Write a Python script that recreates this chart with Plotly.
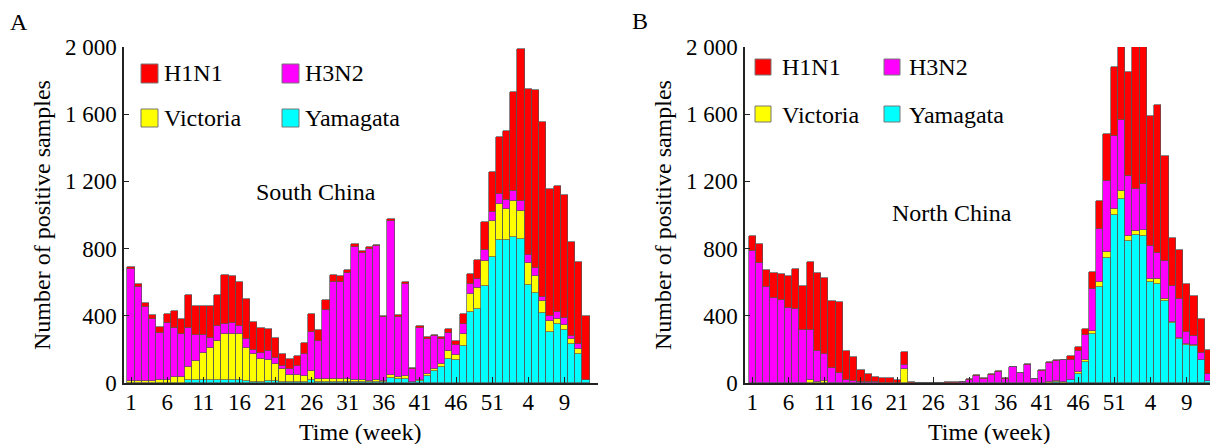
import plotly.graph_objects as go

# ---------------- data ----------------
week_labels = [str(w) for w in range(1, 53)] + [str(w) for w in range(1, 13)]
tick_labels = ["1", "6", "11", "16", "21", "26", "31", "36", "41", "46", "51", "4", "9"]
y_tick_vals = [0, 400, 800, 1200, 1600, 2000]
y_tick_text = ["0", "400", "800", "1 200", "1 600", "2 000"]
series_names = ["Yamagata", "Victoria", "H3N2", "H1N1"]
series_colors = ["#00FFFF", "#FFFF00", "#FF00FF", "#FF0000"]

# South China
south_yamagata = [0, 0, 0, 0, 0, 0, 0, 0, 20, 20, 20, 20, 20, 20, 20, 15, 10, 8, 8, 10,
                  10, 8, 5, 5, 5, 15, 5, 5, 5, 5, 5, 5, 5, 5, 5, 5, 30, 24, 24, 5,
                  10, 40, 73, 93, 145, 135, 218, 421, 443, 580, 748, 854,
                  850, 869, 857, 586, 536, 417, 302, 353, 314, 232, 173, 15]
south_victoria = [10, 10, 10, 10, 15, 20, 36, 36, 73, 109, 158, 188, 233, 270, 272, 275, 197, 164, 137, 129,
                  103, 75, 45, 45, 35, 54, 17, 20, 20, 20, 20, 15, 10, 7, 10, 5, 20, 12, 16, 0,
                  10, 14, 12, 22, 44, 34, 76, 109, 123, 148, 219, 212,
                  186, 213, 169, 129, 103, 69, 65, 28, 33, 32, 29, 0]
south_h3n2 = [667, 564, 441, 370, 282, 336, 294, 254, 237, 158, 109, 59, 87, 60, 63, 50, 55, 26, 33, 51,
              35, 20, 33, 53, 130, 234, 226, 408, 576, 576, 630, 790, 759, 788, 803, 381, 913, 355, 550, 81,
              308, 210, 193, 149, 109, 59, 57, 62, 53, 62, 49, 61,
              52, 59, 60, 49, 44, 24, 30, 42, 40, 18, 32, 5]
south_h1n1 = [13, 14, 24, 22, 36, 56, 96, 91, 193, 174, 174, 193, 185, 293, 282, 264, 238, 164, 149, 131,
              122, 69, 62, 55, 68, 110, 70, 59, 44, 34, 20, 20, 10, 10, 6, 6, 16, 12, 11, 3,
              9, 8, 10, 8, 25, 20, 60, 57, 111, 167, 240, 336,
              411, 592, 905, 987, 1060, 1042, 758, 748, 731, 556, 487, 381]

# North China
north_yamagata = [0, 0, 0, 0, 0, 0, 0, 0, 0, 0, 2, 0, 0, 0, 0, 0, 0, 0, 0, 0,
                  0, 0, 0, 0, 0, 0, 0, 0, 0, 0, 0, 0, 0, 0, 0, 0, 0, 0, 0, 0,
                  0, 2, 8, 3, 18, 55, 124, 292, 572, 744, 1002, 1098,
                  844, 883, 877, 601, 590, 486, 357, 262, 224, 218, 135, 10]
north_victoria = [3, 2, 2, 2, 2, 2, 2, 3, 15, 5, 8, 3, 2, 2, 1, 1, 1, 0, 0, 0,
                  0, 85, 0, 0, 0, 0, 0, 0, 0, 0, 0, 0, 0, 0, 0, 0, 0, 0, 0, 0,
                  0, 2, 6, 3, 2, 8, 10, 15, 29, 36, 34, 43,
                  33, 20, 32, 20, 29, 14, 4, 6, 8, 10, 4, 0]
north_h3n2 = [780, 715, 571, 504, 492, 447, 438, 312, 300, 186, 163, 86, 60, 15, 8, 7, 5, 4, 3, 3,
              2, 24, 2, 1, 1, 1, 1, 2, 3, 6, 18, 44, 25, 50, 68, 25, 94, 59, 110, 24,
              74, 118, 118, 129, 118, 130, 151, 255, 316, 421, 433, 427,
              354, 252, 278, 193, 155, 225, 219, 232, 70, 50, 40, 44]
north_h1n1 = [93, 110, 97, 149, 154, 187, 236, 263, 403, 465, 450, 401, 418, 173, 146, 68, 49, 29, 24, 24,
              16, 77, 3, 2, 2, 2, 2, 3, 2, 2, 3, 3, 2, 2, 2, 2, 2, 2, 2, 2,
              2, 3, 3, 4, 22, 24, 38, 100, 165, 284, 411, 532,
              621, 945, 913, 778, 878, 625, 283, 294, 290, 242, 202, 145]

panels = [
    dict(x="x", y="y", data=[south_yamagata, south_victoria, south_h3n2, south_h1n1]),
    dict(x="x2", y="y2", data=[north_yamagata, north_victoria, north_h3n2, north_h1n1]),
]

W, H = 1218, 444
OX, OY = 8, 8          # page body margin of the browser
FONT = "Liberation Serif, Times New Roman, serif"
FS = 24
FS_TICK = 23


def px(xp):
    return (xp - OX) / W


def py(yp):
    return 1 - (yp - OY) / H


x_pos = list(range(len(week_labels)))
tick_pos = [x_pos[week_labels.index("1")] + 5 * k for k in range(len(tick_labels))]

fig = go.Figure()
for p in panels:
    for name, color, vals in zip(series_names, series_colors, p["data"]):
        fig.add_trace(go.Bar(
            x=x_pos, y=vals, name=name, xaxis=p["x"], yaxis=p["y"],
            marker=dict(color=color, line=dict(color="#555555", width=0.7)),
            width=1.0, showlegend=False,
            customdata=week_labels,
            hovertemplate="Week %{customdata}<br>" + name + ": %{y}<extra></extra>",
        ))

axis_common = dict(
    showgrid=False, zeroline=False, showline=True, linecolor="#222222", linewidth=1.5,
    ticks="inside", tickcolor="#222222", tickwidth=1.2, automargin=False,
    tickfont=dict(family=FONT, size=FS_TICK, color="#000000"),
)

fig.update_layout(
    template="none",
    width=W, height=H, autosize=False,
    margin=dict(l=0, r=0, t=0, b=0, pad=0),
    paper_bgcolor="white", plot_bgcolor="white",
    barmode="stack", bargap=0,
    font=dict(family=FONT, size=FS, color="#000000"),
    xaxis=dict(domain=[px(124), px(598)], range=[-0.98, 64.65], anchor="y",
               tickvals=tick_pos, ticktext=tick_labels, ticklen=6, ticklabelstandoff=-2,
               **axis_common),
    yaxis=dict(domain=[py(383), py(47)], range=[0, 2000], anchor="x",
               tickvals=y_tick_vals, ticktext=y_tick_text, ticklen=5, ticklabelstandoff=1,
               **axis_common),
    xaxis2=dict(domain=[px(745), px(1217)], range=[-1.01, 64.18], anchor="y2",
                tickvals=tick_pos, ticktext=tick_labels, ticklen=6, ticklabelstandoff=-2,
                **axis_common),
    yaxis2=dict(domain=[py(383), py(47)], range=[0, 2000], anchor="x2",
                tickvals=y_tick_vals, ticktext=y_tick_text, ticklen=5, ticklabelstandoff=1,
                **axis_common),
)

annotations = []
shapes = []


def text(t, x, y, xanchor="center", angle=0, size=FS):
    annotations.append(dict(text=t, x=px(x), y=py(y), xref="paper", yref="paper",
                            xanchor=xanchor, yanchor="middle", showarrow=False,
                            textangle=angle, font=dict(family=FONT, size=size, color="#000000")))


# panel letters
text("A", 19, 22)
text("B", 640, 21)
# axis titles
text("Number of positive samples", 42, 215, angle=-90)
text("Number of positive samples", 663, 215, angle=-90)
text("Time (week)", 360, 432)
text("Time (week)", 989, 432)
# region labels
text("South China", 316, 192)
text("North China", 952, 213)

# legends (red/magenta row, yellow/cyan row)
legend_layout = [
    # (name, color, x0, x1, y0, y1, text_x, text_y)
    ("H1N1", "#FF0000", 141, 158, 64, 83, 162, 73),
    ("H3N2", "#FF00FF", 282, 299, 64, 83, 303, 73),
    ("Victoria", "#FFFF00", 141, 158, 109, 127, 162, 118),
    ("Yamagata", "#00FFFF", 282, 299, 109, 127, 303, 118),
    ("H1N1", "#FF0000", 755, 771, 59, 75, 780, 67),
    ("H3N2", "#FF00FF", 884, 900, 59, 75, 907, 67),
    ("Victoria", "#FFFF00", 755, 771, 106, 122, 780, 115),
    ("Yamagata", "#00FFFF", 884, 900, 106, 122, 907, 115),
]
for name, color, x0, x1, y0, y1, tx, ty in legend_layout:
    shapes.append(dict(type="rect", xref="paper", yref="paper",
                       x0=px(x0), x1=px(x1), y0=py(y1), y1=py(y0),
                       fillcolor=color, line=dict(color="#777777", width=1)))
    text(name, tx, ty, xanchor="left")

fig.update_layout(annotations=annotations, shapes=shapes)

fig.write_html("out.html")
